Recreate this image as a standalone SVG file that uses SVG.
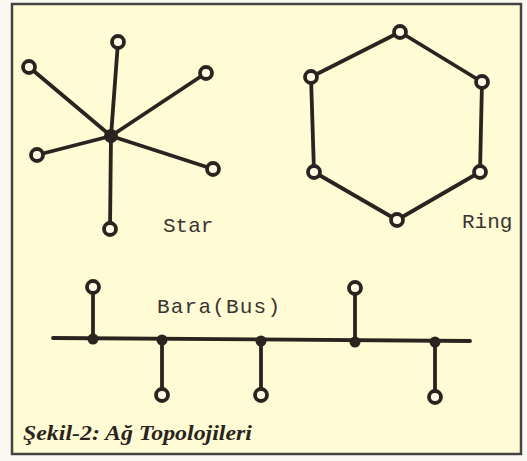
<svg xmlns="http://www.w3.org/2000/svg" width="527" height="461" viewBox="0 0 527 461">
<style>
.ln{stroke:#2a2420;stroke-width:3.8;stroke-linecap:round;stroke-linejoin:round;fill:none}
.nd{fill:#fffbe6;stroke:#2a2420;stroke-width:3.8}
.jn{fill:#2a2420}
.lbl{font-family:"Liberation Mono",monospace;font-size:21px;fill:#3a3430}
.cap{font-family:"Liberation Serif",serif;font-style:italic;font-weight:bold;font-size:21px;fill:#2a2420}
</style>
<rect x="0" y="0" width="527" height="461" fill="#fbfaf2"/>
<rect x="12" y="4" width="509" height="450" fill="#fffbd4" stroke="#444" stroke-width="2.5"/>
<g id="connectors">
<line class="ln" x1="111" y1="136" x2="118" y2="42"/>
<line class="ln" x1="111" y1="136" x2="29" y2="67"/>
<line class="ln" x1="111" y1="136" x2="206" y2="73"/>
<line class="ln" x1="111" y1="136" x2="37" y2="155"/>
<line class="ln" x1="111" y1="136" x2="213" y2="169"/>
<line class="ln" x1="111" y1="136" x2="110" y2="229"/>
<polygon class="ln" points="400,32 482,82 480,172 397,220 314,172 311,77"/>
<line class="ln" x1="53" y1="338" x2="470" y2="341"/>
<line class="ln" x1="93" y1="339" x2="93" y2="287"/>
<line class="ln" x1="162" y1="340" x2="162" y2="395"/>
<line class="ln" x1="261" y1="341" x2="261" y2="395"/>
<line class="ln" x1="355" y1="342" x2="355" y2="288"/>
<line class="ln" x1="435" y1="342" x2="435" y2="397"/>
</g>
<g id="star">
<circle class="jn" cx="111" cy="136" r="7"/>
<circle class="nd" cx="118" cy="42" r="6"/>
<circle class="nd" cx="29" cy="67" r="6"/>
<circle class="nd" cx="206" cy="73" r="6"/>
<circle class="nd" cx="37" cy="155" r="6"/>
<circle class="nd" cx="213" cy="169" r="6"/>
<circle class="nd" cx="110" cy="229" r="6"/>
<text class="lbl" x="163" y="232">Star</text>
</g>
<g id="ring">
<circle class="nd" cx="400" cy="32" r="6"/>
<circle class="nd" cx="482" cy="82" r="6"/>
<circle class="nd" cx="480" cy="172" r="6"/>
<circle class="nd" cx="397" cy="220" r="6"/>
<circle class="nd" cx="314" cy="172" r="6"/>
<circle class="nd" cx="311" cy="77" r="6"/>
<text class="lbl" x="462" y="228">Ring</text>
</g>
<g id="bus">
<circle class="jn" cx="93" cy="339" r="5.5"/>
<circle class="jn" cx="162" cy="340" r="5.5"/>
<circle class="jn" cx="261" cy="341" r="5.5"/>
<circle class="jn" cx="355" cy="342" r="5.5"/>
<circle class="jn" cx="435" cy="342" r="5.5"/>
<circle class="nd" cx="93" cy="287" r="6"/>
<circle class="nd" cx="162" cy="395" r="6"/>
<circle class="nd" cx="261" cy="395" r="6"/>
<circle class="nd" cx="355" cy="288" r="6"/>
<circle class="nd" cx="435" cy="397" r="6"/>
<text class="lbl" x="157" y="313" textLength="123">Bara(Bus)</text>
</g>
<g id="caption">
<text class="cap" x="23" y="440" textLength="229" lengthAdjust="spacingAndGlyphs">Şekil-2: Ağ Topolojileri</text>
</g>
</svg>
